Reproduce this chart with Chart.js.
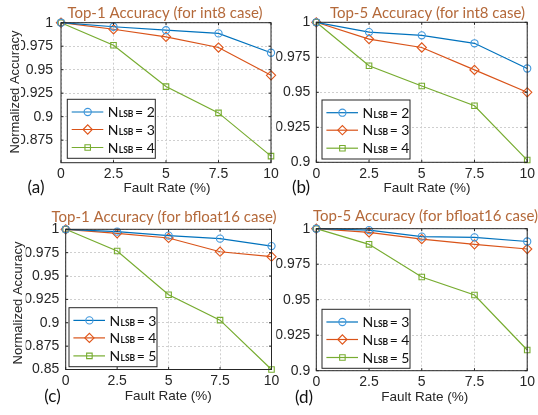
<!DOCTYPE html>
<html>
<head>
<meta charset="utf-8">
<script src="https://cdn.jsdelivr.net/npm/chart.js@4.4.1/dist/chart.umd.min.js"></script>
<style>
  html, body { margin: 0; padding: 0; background: #ffffff; }
  #wrap { position: relative; width: 538px; height: 415px; overflow: hidden; background: #fff; }
  #wrap canvas { position: absolute; left: 0; top: 0; }
</style>
</head>
<body>
<div id="wrap">
  <canvas id="cA" width="538" height="415"></canvas>
  <canvas id="cB" width="538" height="415"></canvas>
  <canvas id="cC" width="538" height="415"></canvas>
  <canvas id="cD" width="538" height="415"></canvas>
</div>
<script>
// ---------------- DATA ----------------
const faultRate = [0, 2.5, 5, 7.5, 10];

const panelTitles = [
  "Top-1 Accuracy (for int8 case)",
  "Top-5 Accuracy (for int8 case)",
  "Top-1 Accuracy (for bfloat16 case)",
  "Top-5 Accuracy (for bfloat16 case)"
];
const panelLetters = ["(a)", "(b)", "(c)", "(d)"];
const xAxisTitle = "Fault Rate (%)";
const yAxisTitle = "Normalized Accuracy";

const nLsbInt8 = [2, 3, 4];
const nLsbBf16 = [3, 4, 5];

const int8Top1_N2 = [1, 0.9957, 0.992, 0.9886, 0.968];
const int8Top1_N3 = [1, 0.993, 0.985, 0.9736, 0.944];
const int8Top1_N4 = [1, 0.976, 0.932, 0.904, 0.858];

const int8Top5_N2 = [1, 0.993, 0.9907, 0.985, 0.967];
const int8Top5_N3 = [1, 0.988, 0.982, 0.966, 0.950];
const int8Top5_N4 = [1, 0.969, 0.9545, 0.9404, 0.9016];

const bf16Top1_N3 = [1, 0.9975, 0.9932, 0.990, 0.982];
const bf16Top1_N4 = [1, 0.9957, 0.9907, 0.976, 0.9707];
const bf16Top1_N5 = [1, 0.9768, 0.930, 0.9028, 0.850];

const bf16Top5_N3 = [1, 0.999, 0.9944, 0.9939, 0.991];
const bf16Top5_N4 = [1, 0.9974, 0.9927, 0.989, 0.9857];
const bf16Top5_N5 = [1, 0.989, 0.966, 0.9533, 0.9146];

const yMinA = 0.851, yMinB = 0.9, yMinC = 0.85, yMinD = 0.9;
const yMax = 1;
const yStep = 0.025;
const xStep = 2.5;

// ---------------- STYLE / LAYOUT ----------------
const W = 538, H = 415;
const seriesStyles = [
  { color: '#0072BD', marker: '#3f97dd', pointStyle: 'circle', radius: 3.6 },
  { color: '#D95319', marker: '#E0561A', pointStyle: 'rectRot', radius: 4.6 },
  { color: '#77AC30', marker: '#77AC30', pointStyle: 'rect', radius: 3.9 }
];
const tickFont = { family: "'Liberation Sans', Arial, sans-serif", size: 14 };
const textColor = '#262626';
const titleColor = '#B4693A';
const calFont = "Lato, 'Open Sans', sans-serif";

const layouts = [
  { left: 61, right: 271, top: 22.7, bottom: 162.7, tickPad: 8,
    title: [165, 13.5], letter: [36, 188], xlabel: [167, 188], ylabel: [15, 92], legend: [67.3, 99.3] },
  { left: 316.3, right: 529.7, top: 22.3, bottom: 162.3, tickPad: 6,
    title: [427.5, 13.5], letter: [301, 188], xlabel: [427, 188], ylabel: null, legend: [322, 100] },
  { left: 65.7, right: 271.5, top: 229.3, bottom: 369.5, tickPad: 6.5,
    title: [164, 217], letter: [52.5, 397], xlabel: [168.3, 396.5], ylabel: [18.5, 303], legend: [69, 307.7] },
  { left: 316.3, right: 533.5, top: 228.7, bottom: 370.7, tickPad: 6,
    title: [425.5, 216], letter: [304, 398], xlabel: [424.7, 397.5], ylabel: null, legend: [322, 309.3] }
];

const Y_AXIS_W = 40, X_AXIS_H = 20;

function fmtTick(v) {
  return String(parseFloat(Number(v).toFixed(4)));
}

function makeDatasets(seriesList, nList) {
  return seriesList.map((vals, i) => {
    const s = seriesStyles[i];
    return {
      label: 'N_LSB = ' + nList[i],
      nValue: nList[i],
      data: faultRate.map((x, j) => ({ x: x, y: vals[j] })),
      borderColor: s.color,
      backgroundColor: s.color,
      borderWidth: 1.2,
      pointStyle: s.pointStyle,
      pointRadius: s.radius,
      pointHoverRadius: s.radius,
      pointBorderColor: s.marker,
      pointBackgroundColor: 'rgba(0,0,0,0)',
      pointBorderWidth: 1.1,
      tension: 0,
      clip: false
    };
  });
}

const decoPlugin = {
  id: 'deco',
  afterDraw(chart, args, opts) {
    const L = opts.lay;
    const ctx = chart.ctx;
    const ca = chart.chartArea;
    const xs = chart.scales.x, ys = chart.scales.y;
    ctx.save();
    // box
    ctx.strokeStyle = '#262626';
    ctx.lineWidth = 1;
    ctx.setLineDash([]);
    ctx.strokeRect(ca.left, ca.top, ca.right - ca.left, ca.bottom - ca.top);
    // inner tick marks
    const tl = 2.5;
    ctx.beginPath();
    ys.ticks.forEach(t => {
      const py = ys.getPixelForValue(t.value);
      ctx.moveTo(ca.left, py); ctx.lineTo(ca.left + tl, py);
      ctx.moveTo(ca.right, py); ctx.lineTo(ca.right - tl, py);
    });
    xs.ticks.forEach(t => {
      const px = xs.getPixelForValue(t.value);
      ctx.moveTo(px, ca.bottom); ctx.lineTo(px, ca.bottom - tl);
      ctx.moveTo(px, ca.top); ctx.lineTo(px, ca.top + tl);
    });
    ctx.stroke();

    // title
    ctx.fillStyle = titleColor;
    ctx.font = '15px ' + calFont;
    ctx.textAlign = 'center';
    ctx.textBaseline = 'middle';
    ctx.fillText(opts.title, L.title[0], L.title[1]);

    // letter
    ctx.fillStyle = '#111';
    ctx.font = '17px ' + calFont;
    ctx.fillText(opts.letter, L.letter[0], L.letter[1]);

    // x label
    ctx.fillStyle = textColor;
    ctx.font = '13.5px ' + tickFont.family;
    ctx.fillText(xAxisTitle, L.xlabel[0], L.xlabel[1]);

    // y label
    if (L.ylabel) {
      ctx.save();
      ctx.translate(L.ylabel[0], L.ylabel[1]);
      ctx.rotate(-Math.PI / 2);
      ctx.font = '13px ' + tickFont.family;
      ctx.fillText(yAxisTitle, 0, 0);
      ctx.restore();
    }

    // legend
    const lx = L.legend[0], ly = L.legend[1];
    const lw = 88, lh = 59;
    ctx.fillStyle = '#ffffff';
    ctx.fillRect(lx, ly, lw, lh);
    ctx.strokeStyle = '#262626';
    ctx.lineWidth = 1;
    ctx.strokeRect(lx, ly, lw, lh);
    const rows = [12.7, 30.2, 48.2];
    chart.data.datasets.forEach((ds, i) => {
      const ry = ly + rows[i];
      ctx.strokeStyle = ds.borderColor;
      ctx.lineWidth = ds.borderWidth;
      ctx.beginPath();
      ctx.moveTo(lx + 4.4, ry);
      ctx.lineTo(lx + 36, ry);
      ctx.stroke();
      ctx.strokeStyle = ds.pointBorderColor;
      ctx.fillStyle = 'rgba(0,0,0,0)';
      ctx.lineWidth = ds.pointBorderWidth;
      Chart.helpers.drawPoint(ctx, {
        pointStyle: ds.pointStyle, rotation: 0,
        radius: ds.pointRadius, borderWidth: ds.pointBorderWidth
      }, lx + 20.4, ry);
      // text
      ctx.fillStyle = '#111';
      ctx.textAlign = 'left';
      ctx.textBaseline = 'alphabetic';
      const base = ry + 5.2;
      let tx = lx + 40.5;
      ctx.font = '14px ' + calFont;
      ctx.fillText('N', tx, base);
      tx += ctx.measureText('N').width + 0.3;
      ctx.font = 'bold 8.5px ' + calFont;
      ctx.fillText('LSB', tx, base);
      tx += ctx.measureText('LSB').width + 1.5;
      ctx.font = '14px ' + calFont;
      ctx.fillText('= ' + ds.nValue, tx, base);
    });
    ctx.restore();
  }
};

function makePanel(id, idx, datasets, yMin) {
  const L = layouts[idx];
  const cfg = {
    type: 'line',
    data: { datasets: datasets },
    options: {
      responsive: false,
      animation: false,
      events: [],
      devicePixelRatio: 1,
      layout: {
        autoPadding: false,
        padding: {
          left: L.left - Y_AXIS_W,
          right: W - L.right,
          top: L.top,
          bottom: H - L.bottom - X_AXIS_H
        }
      },
      scales: {
        x: {
          type: 'linear',
          min: 0, max: 10,
          afterFit: s => { s.height = X_AXIS_H; },
          ticks: {
            stepSize: xStep,
            padding: 3,
            maxRotation: 0,
            autoSkip: false,
            color: textColor,
            font: tickFont,
            callback: v => fmtTick(v)
          },
          grid: { color: '#cfcfcf', lineWidth: 1, drawTicks: false },
          border: { display: false, dash: [2, 2] }
        },
        y: {
          type: 'linear',
          min: yMin, max: yMax,
          afterFit: s => { s.width = Y_AXIS_W; },
          ticks: {
            stepSize: yStep,
            includeBounds: false,
            padding: L.tickPad,
            autoSkip: false,
            color: textColor,
            font: tickFont,
            callback: v => fmtTick(v)
          },
          grid: { color: '#cfcfcf', lineWidth: 1, drawTicks: false },
          border: { display: false, dash: [2, 2] }
        }
      },
      plugins: {
        legend: { display: false },
        tooltip: { enabled: false },
        title: { display: false },
        deco: { lay: L, title: panelTitles[idx], letter: panelLetters[idx] }
      }
    },
    plugins: [decoPlugin]
  };
  return new Chart(document.getElementById(id), cfg);
}

makePanel('cA', 0, makeDatasets([int8Top1_N2, int8Top1_N3, int8Top1_N4], nLsbInt8), yMinA);
makePanel('cB', 1, makeDatasets([int8Top5_N2, int8Top5_N3, int8Top5_N4], nLsbInt8), yMinB);
makePanel('cC', 2, makeDatasets([bf16Top1_N3, bf16Top1_N4, bf16Top1_N5], nLsbBf16), yMinC);
makePanel('cD', 3, makeDatasets([bf16Top5_N3, bf16Top5_N4, bf16Top5_N5], nLsbBf16), yMinD);
</script>
</body>
</html>
